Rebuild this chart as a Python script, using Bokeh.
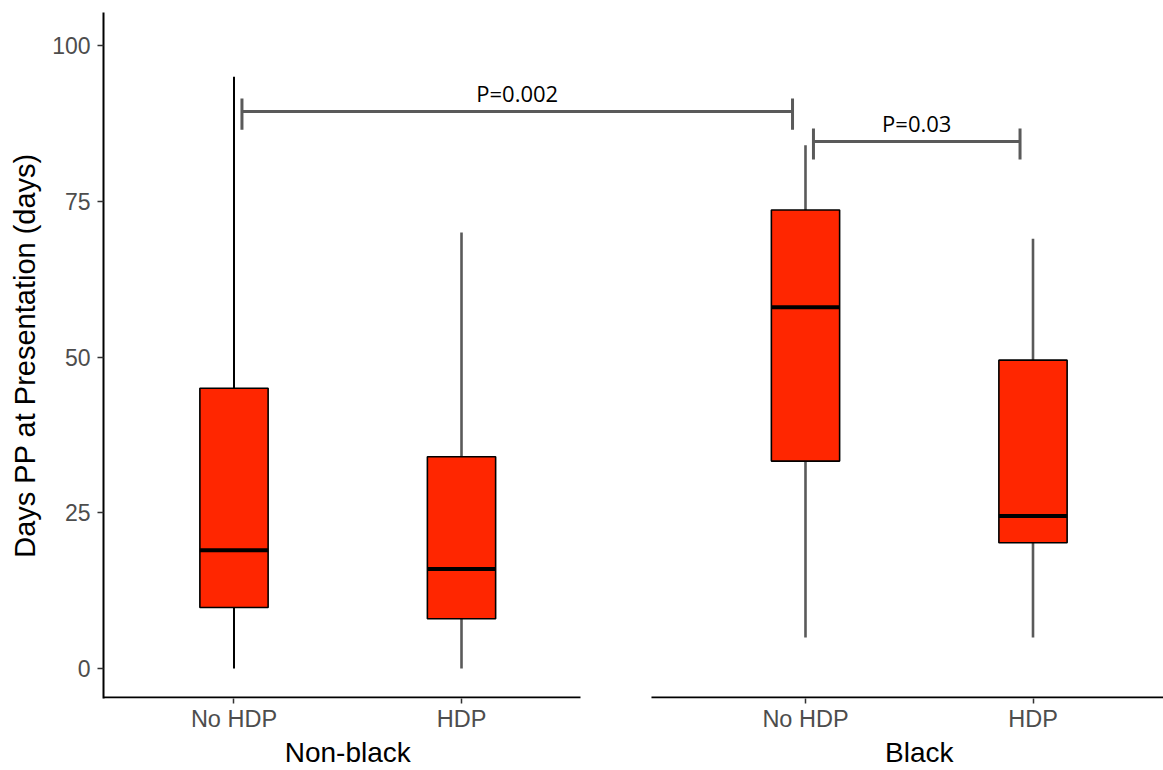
from bokeh.plotting import figure
from bokeh.models import FactorRange, Range1d, FixedTicker, ColumnDataSource
from bokeh.embed import file_html
from bokeh.resources import INLINE
from bokeh.core.properties import value

# ---------------- data ----------------
race = ["Non-black", "Non-black", "Black", "Black"]
hdp_status = ["No HDP", "HDP", "No HDP", "HDP"]
whisker_low = [0, 0, 5, 5]
q1 = [9.8, 8.0, 33.3, 20.2]
median = [19.0, 16.0, 58.0, 24.5]
q3 = [45.0, 34.0, 73.6, 49.5]
whisker_high = [95, 70, 84, 69]
y_tick_values = [0, 25, 50, 75, 100]

cmp_from = [("Non-black", "No HDP"), ("Black", "No HDP")]
cmp_to = [("Black", "No HDP"), ("Black", "HDP")]
cmp_y = [89.4, 84.6]
cmp_label = ["P=0.002", "P=0.03"]

y_title = "Days PP at Presentation (days)"

# ---------------- style / layout ----------------
GP = 0.512         # gap between the two panels (factor units)
RP = 0.0736        # range padding each side
BOX_W = 0.30
FILL = "#FF2600"
WHISK_COLORS = ["black", "#5a5a5a", "#5a5a5a", "#5a5a5a"]
WHISK_WIDTHS = [2, 2.6, 2.6, 2.6]
BRACKET_COLOR = "#5a5a5a"
FONT = "Liberation Sans"

factors = list(zip(race, hdp_status))
groups = list(dict.fromkeys(race))


def synth(f):
    """synthetic coordinate of a factor on the FactorRange"""
    return 0.5 + factors.index(f) + groups.index(f[0]) * GP


x_range = FactorRange(factors=factors, factor_padding=0, group_padding=GP,
                      range_padding=RP, range_padding_units="absolute")
y_range = Range1d(-4.8, 105.3)

p = figure(width=1163, height=770, x_range=x_range, y_range=y_range,
           output_backend="svg", toolbar_location=None,
           min_border_left=103, min_border_top=12, min_border_bottom=72,
           min_border_right=0)

p.grid.visible = False
p.outline_line_color = None
p.background_fill_color = "white"
p.border_fill_color = "white"

src = ColumnDataSource(dict(x=factors, lo=whisker_low, q1=q1, med=median,
                            q3=q3, hi=whisker_high,
                            wc=WHISK_COLORS, ww=WHISK_WIDTHS))

# whiskers
p.segment(x0="x", x1="x", y0="lo", y1="q1", source=src,
          line_color="wc", line_width="ww")
p.segment(x0="x", x1="x", y0="q3", y1="hi", source=src,
          line_color="wc", line_width="ww")
# boxes
p.vbar(x="x", width=BOX_W, bottom="q1", top="q3", source=src,
       fill_color=FILL, line_color="black", line_width=1.6)
# medians
p.rect(x="x", y="med", width=BOX_W, height=4, height_units="screen",
       source=src, fill_color="black", line_color=None)

# x axis lines (one per panel)
y_axis_line = y_range.start + 0.17
left_end = synth(factors[1]) + 0.523
right_start = synth(factors[2]) - 0.677
p.segment(x0=[-1.0, right_start], x1=[left_end, synth(factors[3]) + 1.0],
          y0=[y_axis_line, y_axis_line], y1=[y_axis_line, y_axis_line],
          line_color="black", line_width=2)

# significance brackets
bx0 = [synth(f) + 0.035 for f in cmp_from]
bx1 = [synth(f) - 0.057 for f in cmp_to]
p.segment(x0=bx0, x1=bx1, y0=cmp_y, y1=cmp_y, line_color=BRACKET_COLOR, line_width=3)
p.segment(x0=bx0 + bx1, x1=bx0 + bx1,
          y0=[y - 2.9 for y in cmp_y] * 2, y1=[y + 2.1 for y in cmp_y] * 2,
          line_color=BRACKET_COLOR, line_width=3)
p.text(x=[(a + b) / 2 for a, b in zip(bx0, bx1)], y=[y + 3.0 for y in cmp_y],
       text=cmp_label, text_align="center", text_baseline="middle",
       text_font=value("Open Sans"), text_font_size="22px", text_color="black")

# x axis
xa = p.xaxis[0]
xa.axis_line_color = None
xa.major_tick_line_color = "#333333"
xa.major_tick_line_width = 1.5
xa.major_tick_out = 5
xa.major_tick_in = 0
xa.minor_tick_line_color = None
xa.major_label_text_font = FONT
xa.major_label_text_font_size = "23.5px"
xa.major_label_text_color = "#4D4D4D"
xa.major_label_standoff = 2
xa.group_text_font = FONT
xa.group_text_font_size = "28px"
xa.group_text_color = "black"
xa.group_text_font_style = "normal"
xa.separator_line_color = None

# y axis
ya = p.yaxis[0]
ya.ticker = FixedTicker(ticks=y_tick_values)
ya.axis_line_color = "black"
ya.axis_line_width = 2
ya.major_tick_line_color = "#333333"
ya.major_tick_line_width = 1.5
ya.major_tick_out = 6
ya.major_tick_in = 0
ya.minor_tick_line_color = None
ya.major_label_text_font = FONT
ya.major_label_text_font_size = "23px"
ya.major_label_text_color = "#4D4D4D"
ya.major_label_standoff = 7
ya.axis_label = y_title
ya.axis_label_text_font = FONT
ya.axis_label_text_font_size = "29px"
ya.axis_label_text_font_style = "normal"
ya.axis_label_text_color = "black"
ya.axis_label_standoff = 8

open("out.html", "w").write(file_html(p, INLINE))
